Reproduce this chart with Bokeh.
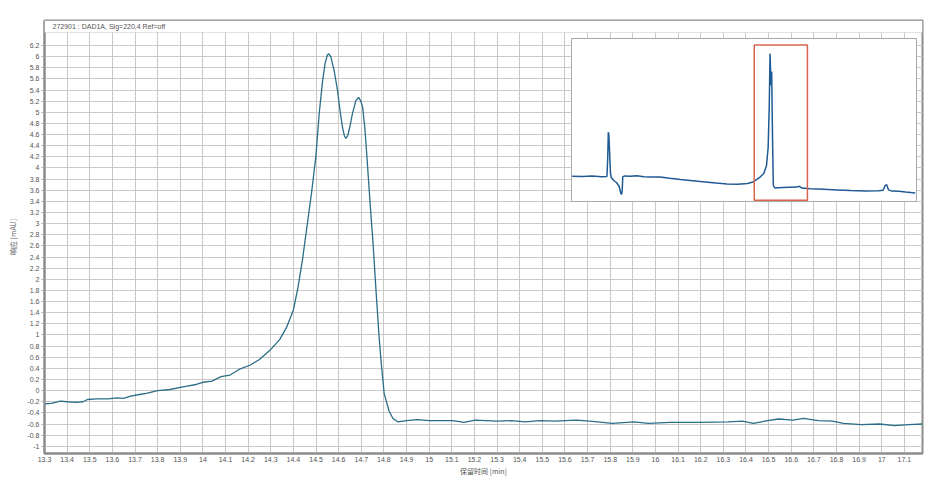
from bokeh.plotting import figure
from bokeh.models import (Range1d, FixedTicker, CustomJSTickFormatter, Label,
                          BoxAnnotation, ColumnDataSource)
from bokeh.embed import file_html
from bokeh.resources import INLINE

# ---------------- data ----------------
time_min = [13.30, 13.33, 13.37, 13.40, 13.44, 13.47, 13.49, 13.53, 13.58, 13.62,
            13.65, 13.68, 13.72, 13.75, 13.80, 13.855, 13.90, 13.93, 13.97, 14.00,
            14.04, 14.08, 14.12, 14.16, 14.21, 14.25, 14.30, 14.34, 14.37, 14.40,
            14.42, 14.44, 14.46, 14.48, 14.499, 14.514, 14.529, 14.54, 14.55, 14.557,
            14.565, 14.58, 14.595, 14.607, 14.617, 14.625, 14.632, 14.64, 14.65, 14.661,
            14.676, 14.688, 14.698, 14.706, 14.716, 14.725, 14.74, 14.751, 14.765, 14.778,
            14.787, 14.801, 14.823, 14.84, 14.861, 14.90, 14.946, 15.0, 15.105, 15.154,
            15.203, 15.298, 15.362, 15.424, 15.49, 15.552, 15.65, 15.711, 15.809, 15.906,
            15.968, 16.065, 16.194, 16.322, 16.384, 16.433, 16.482, 16.543, 16.608, 16.654,
            16.72, 16.782, 16.831, 16.911, 16.99, 17.057, 17.119, 17.18]
signal_x10mAU = [-0.24, -0.23, -0.19, -0.20, -0.21, -0.20, -0.16, -0.15, -0.15, -0.13,
                 -0.14, -0.10, -0.07, -0.05, 0.00, 0.02, 0.06, 0.08, 0.11, 0.15,
                 0.17, 0.25, 0.28, 0.38, 0.46, 0.56, 0.74, 0.92, 1.14, 1.45,
                 1.85, 2.35, 2.95, 3.55, 4.20, 4.98, 5.57, 5.88, 6.03, 6.05,
                 6.00, 5.75, 5.39, 5.00, 4.73, 4.58, 4.53, 4.58, 4.75, 4.98,
                 5.21, 5.27, 5.20, 5.09, 4.70, 4.19, 3.30, 2.70, 1.80, 1.00,
                 0.54, -0.05, -0.37, -0.50, -0.56, -0.54, -0.52, -0.54, -0.54, -0.57,
                 -0.53, -0.55, -0.54, -0.56, -0.54, -0.55, -0.53, -0.55, -0.59, -0.56,
                 -0.59, -0.57, -0.57, -0.56, -0.55, -0.59, -0.55, -0.51, -0.53, -0.50,
                 -0.54, -0.55, -0.59, -0.61, -0.60, -0.63, -0.61, -0.60]

overview_time = [0.05, 0.8, 1.5, 2.2, 2.6, 2.66, 2.70, 2.74, 2.80, 2.86,
                 2.92, 3.1, 3.3, 3.5, 3.62, 3.68, 3.72, 3.76, 3.9, 4.3,
                 4.8, 5.3, 5.8, 6.5, 7.2, 8.0, 8.9, 9.8, 10.6, 11.4,
                 12.2, 12.9, 13.3, 13.8, 14.1, 14.3, 14.42, 14.5, 14.56, 14.63,
                 14.68, 14.74, 14.8, 14.9, 15.5, 16.5, 16.7, 16.9, 17.5, 18.5,
                 19.5, 20.5, 21.5, 22.5, 22.85, 23.0, 23.1, 23.25, 23.5, 24.0,
                 24.5, 25.2]
overview_mAU = [0.6, 0.5, 0.7, 0.4, 0.5, 10.0, 22.6, 21.5, 12.0, 2.0,
                0.0, -1.5, -2.5, -4.5, -8.0, -8.4, -6.5, 0.3, 0.8, 0.6,
                0.9, 0.4, 0.2, 0.3, -0.4, -1.0, -1.6, -2.2, -2.8, -3.3,
                -3.4, -3.0, -2.3, 0.0, 2.0, 6.0, 15.0, 35.0, 62.0, 46.0,
                53.0, 20.0, -4.0, -5.2, -5.0, -4.8, -4.4, -5.3, -5.6, -5.9,
                -6.2, -6.5, -6.7, -6.6, -6.4, -4.0, -3.5, -6.2, -6.8, -6.9,
                -7.3, -7.8]
overview_window_time = [0.0, 25.3]
overview_window_mAU = [-12.0, 69.5]
zoom_window_time = [13.4, 17.3]
zoom_window_mAU = [-11.4, 66.3]

x_ticks = [round(13.3 + 0.1 * i, 1) for i in range(39)]
y_ticks = [round(-1.0 + 0.2 * i, 1) for i in range(37)]
header_text = "272901 : DAD1A, Sig=220,4  Ref=off"
x_label = "保留时间 [min]"
y_label = "响应 [mAU]"
y_scale_text = "x10"
y_scale_exp = "1"

# ---------------- layout ----------------
X0, X1 = 13.3, 17.18
Y0, Y1 = -1.13, 6.65
STRIP_BOTTOM = 6.433
# inset box as fractions of the plot frame
FX0, FX1 = 0.6002, 0.9932
FY0, FY1 = 0.582, 0.9584

p = figure(width=937, height=478, x_range=Range1d(X0, X1), y_range=Range1d(Y0, Y1),
           output_backend="svg", toolbar_location=None,
           min_border_left=44, min_border_right=15, min_border_top=20,
           min_border_bottom=25)
p.background_fill_color = "white"
p.border_fill_color = "white"
p.outline_line_color = "#8c8c8c"
p.outline_line_width = 2

fmt = CustomJSTickFormatter(code="return String(Math.round(tick*10)/10);")
for ax, ticks in ((p.xaxis[0], x_ticks), (p.yaxis[0], y_ticks)):
    ax.ticker = FixedTicker(ticks=ticks)
    ax.formatter = fmt
    ax.axis_line_color = "#8c8c8c"
    ax.axis_line_width = 2
    ax.major_label_text_font = "Liberation Sans"
    ax.major_label_text_font_size = "7px"
    ax.major_label_text_color = "#555555"
    ax.minor_tick_line_color = None
    ax.major_tick_in = 0
    ax.axis_label_text_font = "Noto Sans CJK SC"
    ax.axis_label_text_font_size = "7px"
    ax.axis_label_text_font_style = "normal"
    ax.axis_label_text_color = "#555555"
    ax.axis_label_standoff = 1

p.xaxis[0].major_tick_out = 0
p.xaxis[0].major_label_standoff = 3
p.xaxis[0].axis_label = x_label
p.yaxis[0].major_tick_out = 3
p.yaxis[0].major_tick_line_color = "#aaaaaa"
p.yaxis[0].major_label_standoff = 2
p.yaxis[0].axis_label = y_label
p.yaxis[0].axis_label_standoff = 6

p.xgrid.ticker = FixedTicker(ticks=x_ticks)
p.ygrid.ticker = FixedTicker(ticks=y_ticks)
p.grid.grid_line_color = "#c9c9c9"
p.grid.grid_line_width = 1

# main chromatogram
main_src = ColumnDataSource(dict(t=time_min, v=signal_x10mAU))
p.line("t", "v", source=main_src, line_color="#2a6d88", line_width=1.3)

# header strip
strip = BoxAnnotation(bottom=STRIP_BOTTOM, fill_color="white", fill_alpha=1.0,
                      line_color="#9a9a9a", line_width=1)
p.add_layout(strip)
p.add_layout(Label(x=X0, y=(STRIP_BOTTOM + Y1) / 2, x_offset=8, text=header_text,
                   text_font="Liberation Sans", text_font_size="7px",
                   text_color="#555555", text_baseline="middle"))
p.add_layout(Label(x=X0, y=6.38, x_offset=-7, text=y_scale_text,
                   text_font="Liberation Sans", text_font_size="7px",
                   text_color="#555555", text_align="right", text_baseline="middle"))
p.add_layout(Label(x=X0, y=6.43, x_offset=-6, text=y_scale_exp,
                   text_font="Liberation Sans", text_font_size="5px",
                   text_color="#555555", text_align="left", text_baseline="middle"))

# inset: extra ranges so that the overview window fills the inset box
t0, t1 = overview_window_time
v0, v1 = overview_window_mAU
sx = (t1 - t0) / (FX1 - FX0)
sy = (v1 - v0) / (FY1 - FY0)
p.extra_x_ranges = {"ix": Range1d(t0 - FX0 * sx, t0 - FX0 * sx + sx)}
p.extra_y_ranges = {"iy": Range1d(v0 - FY0 * sy, v0 - FY0 * sy + sy)}

p.quad(left=[t0], right=[t1], bottom=[v0], top=[v1], x_range_name="ix",
       y_range_name="iy", fill_color="white", line_color="#a8a8a8", line_width=1)
ov_src = ColumnDataSource(dict(t=overview_time, v=overview_mAU))
p.line("t", "v", source=ov_src, x_range_name="ix", y_range_name="iy",
       line_color="#1f5a94", line_width=1.5)
p.quad(left=[zoom_window_time[0]], right=[zoom_window_time[1]],
       bottom=[zoom_window_mAU[0]], top=[zoom_window_mAU[1]],
       x_range_name="ix", y_range_name="iy", fill_color=None,
       line_color="#d8664f", line_width=1.5)

open("out.html", "w").write(file_html(p, INLINE))
